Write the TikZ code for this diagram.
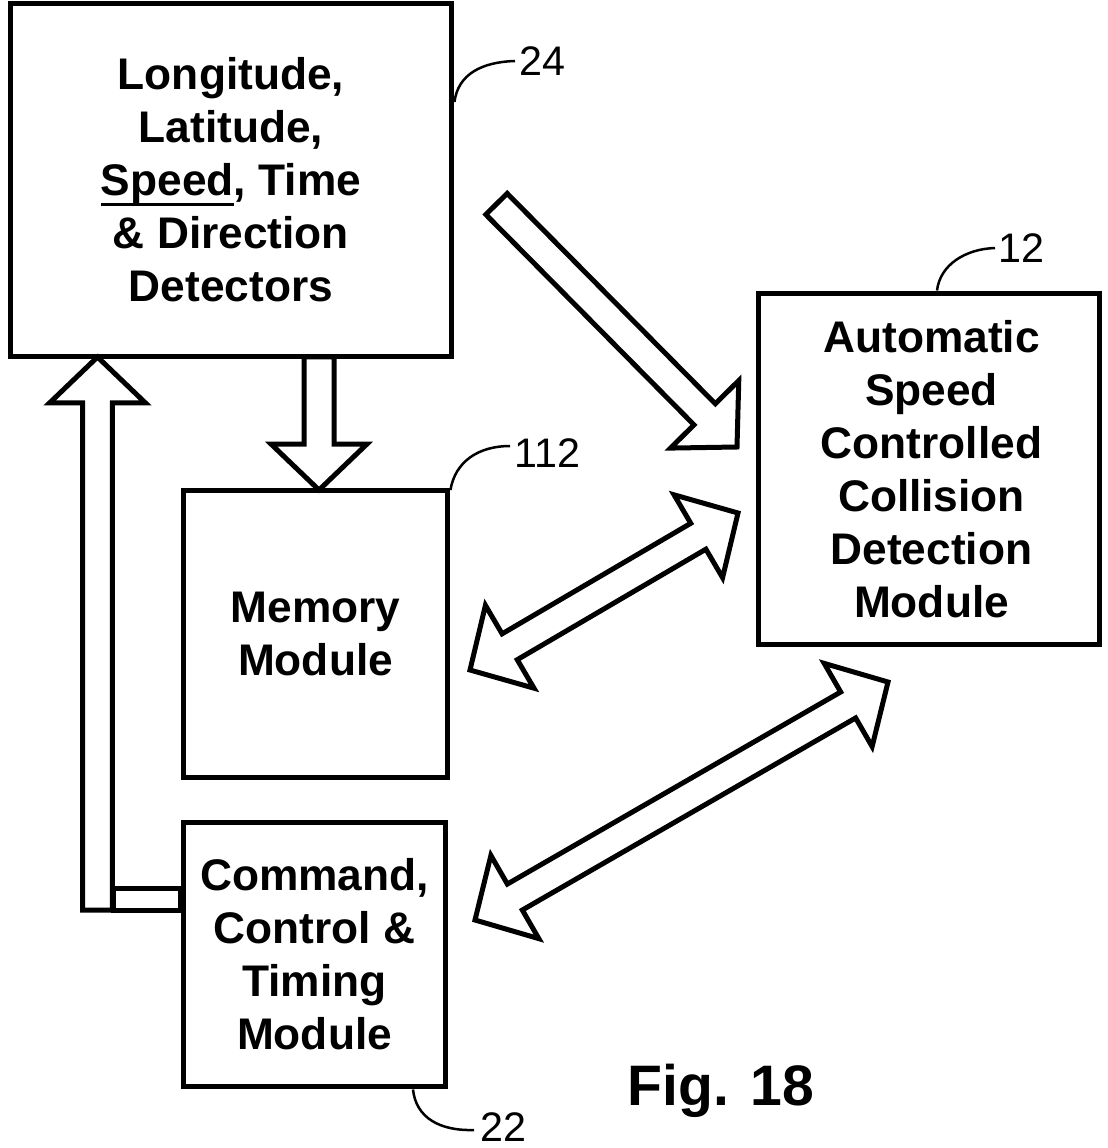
\documentclass[tikz,border=0pt]{standalone}
\usepackage{fontspec}
\setmainfont{Liberation Sans}
\usetikzlibrary{calc}
\tikzset{
  box/.style={draw, line width=0.1cm, inner sep=0pt, align=center,
    font=\bfseries\fontsize{25.2}{30.2}\selectfont},
  blk/.style={draw, line width=0.1cm, line join=miter, fill=white},
  leader/.style={line width=0.05cm},
  reflabel/.style={anchor=west, inner sep=0pt, font=\fontsize{23.5}{26}\selectfont}
}
\newcommand{\thickul}[1]{\setbox0\hbox{#1}\rlap{\rule[-0.22em]{\wd0}{1.6pt}}#1}
% single block arrow from #1 (tail) to #2 (tip)
\newcommand{\singleblk}[2]{%
  \coordinate (h1) at ($(#2)!0.92cm!(#1)$);
  \draw[blk] ($(#1)!0.3cm!90:(#2)$) -- ($(h1)!0.3cm!90:(#2)$) -- ($(h1)!0.96cm!90:(#2)$)
    -- (#2) -- ($(h1)!0.96cm!-90:(#2)$) -- ($(h1)!0.3cm!-90:(#2)$) -- ($(#1)!0.3cm!-90:(#2)$) -- cycle;}
% double block arrow between #1 and #2
\newcommand{\doubleblk}[2]{%
  \coordinate (h1) at ($(#2)!0.92cm!(#1)$);
  \coordinate (h2) at ($(#1)!0.92cm!(#2)$);
  \draw[blk] (#1) -- ($(h2)!0.96cm!90:(#2)$) -- ($(h2)!0.3cm!90:(#2)$) -- ($(h1)!0.3cm!90:(#2)$)
    -- ($(h1)!0.96cm!90:(#2)$) -- (#2) -- ($(h1)!0.96cm!-90:(#2)$) -- ($(h1)!0.3cm!-90:(#2)$)
    -- ($(h2)!0.3cm!-90:(#2)$) -- ($(h2)!0.96cm!-90:(#2)$) -- cycle;}
\begin{document}
\begin{tikzpicture}[x=0.02cm,y=-0.02cm]
\useasboundingbox[fill=white] (0,0) rectangle (1107,1148);

\node[box, minimum width=8.84cm, minimum height=7.08cm] (det) at (231,180)
  {Longitude,\\Latitude,\\\thickul{Speed}, Time\\\& Direction\\Detectors};
\node[box, minimum width=6.84cm, minimum height=7.04cm] (asc) at (929,469)
  {\hspace*{0.1cm}Automatic\\\hspace*{0.1cm}Speed\\\hspace*{0.1cm}Controlled\\\hspace*{0.1cm}Collision\\\hspace*{0.1cm}Detection\\\hspace*{0.1cm}Module};
\node[box, minimum width=5.3cm, minimum height=5.76cm] (mem) at (315.5,634)
  {Memory\\Module};
\node[box, minimum width=5.26cm, minimum height=5.3cm] (cmd) at (314.5,954.5)
  {Command,\\Control \&\\Timing\\Module};

% arrow endpoints
\coordinate (dA) at (319,357);   \coordinate (dB) at (319,490);
\coordinate (uA) at (97.5,910);  \coordinate (uB) at (97.5,357);
\coordinate (sA) at (496.5,204); \coordinate (sB) at (737,447);
\coordinate (m1) at (470,670);   \coordinate (m2) at (738,513);
\coordinate (c1) at (475,920);   \coordinate (c2) at (888,682);
\coordinate (barA) at (113,888); \coordinate (barB) at (cmd.west |- uA);

\singleblk{dA}{dB}
\singleblk{uA}{uB}
\draw[line width=0.1cm] (barA) rectangle (barB);
\singleblk{sA}{sB}
\doubleblk{m1}{m2}
\doubleblk{c1}{c2}

% reference labels
\node[reflabel] (l24) at (519,61) {24};
\draw[leader] (det.east |- 0,102) .. controls (458,74) and (482,62) .. ($(l24.west)+(-4,0)$);
\node[reflabel] (l12) at (998,248) {12};
\draw[leader] (asc.north -| 937,0) .. controls (940,265) and (965,249) .. ($(l12.west)+(-3,0)$);
\node[reflabel] (l112) at (514,453) {112};
\draw[leader] (mem.east |- 0,490) .. controls (455,462) and (478,446) .. ($(l112.west)+(-4,-7)$);
\node[reflabel] (l22) at (480,1127) {22};
\draw[leader] (cmd.south -| 413,0) .. controls (416,1118) and (440,1131) .. ($(l22.west)+(-6,3)$);

\node[anchor=base, inner sep=0pt, font=\bfseries\fontsize{32.5}{38}\selectfont] (fig) at (721,1105) {Fig. 18};
\end{tikzpicture}
\end{document}
